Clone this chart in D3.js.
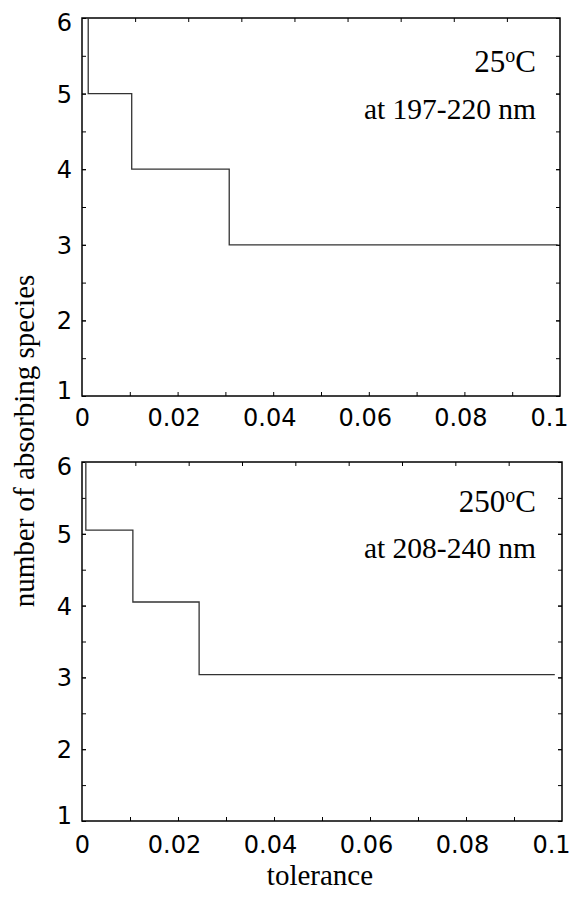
<!DOCTYPE html>
<html>
<head>
<meta charset="utf-8">
<script src="https://cdn.jsdelivr.net/npm/d3@7"></script>
<style>
  body { margin: 0; background: #fff; }
  svg { display: block; }
</style>
</head>
<body>
<div id="chart"></div>
<script>
// step curves
const tol25 = [0.0013, 0.0013, 0.0104, 0.0308, 0.0995];
const species25 = [6, 5, 4, 3, 3];
const tol250 = [0.0008, 0.0008, 0.0106, 0.0244, 0.0985];
const species250 = [6, 5.05, 4.05, 3.04, 3.04];

const xTickLabels = [0, 0.02, 0.04, 0.06, 0.08, 0.1];
const yTickLabels = [1, 2, 3, 4, 5, 6];
const xMinor = d3.range(1, 10).map(d => d / 100);
const yMinor = d3.range(1.5, 6, 0.5);

const tempLabels = ['25', '250'];
const rangeLabels = ['at 197-220 nm', 'at 208-240 nm'];

const width = 576, height = 898;
const svg = d3.select('#chart').append('svg')
    .attr('width', width)
    .attr('height', height);

const panels = [
    {left: 82, right: 560, top: 18, bottom: 396, tol: tol25, sp: species25, labelPad: 13, t1: 54, t2: 101},
    {left: 82, right: 562, top: 462, bottom: 821, tol: tol250, sp: species250, labelPad: 15, t1: 50, t2: 96}
];

panels.forEach((p, k) => {
    const x = d3.scaleLinear().domain([0, 0.1]).range([p.left, p.right]);
    const y = d3.scaleLinear().domain([1, 6]).range([p.bottom, p.top]);
    // top edge ticks don't line up with the bottom ones in the original
    const xTop = d3.scaleLinear().domain([0, 9]).range([p.left, p.right]);

    const g = svg.append('g');

    // minor ticks, pointing inward
    g.append('g').attr('transform', `translate(0,${p.bottom})`)
        .call(d3.axisBottom(x).tickValues(xMinor).tickSize(-4).tickFormat(''));
    g.append('g').attr('transform', `translate(0,${p.top})`)
        .call(d3.axisTop(xTop).tickValues(d3.range(1, 9)).tickSize(-4).tickFormat(''));
    g.append('g').attr('transform', `translate(${p.left},0)`)
        .call(d3.axisLeft(y).tickValues(yMinor.concat(yTickLabels)).tickSize(-4).tickFormat(''));
    g.append('g').attr('transform', `translate(${p.right},0)`)
        .call(d3.axisRight(y).tickValues(yMinor.concat(yTickLabels)).tickSize(-4).tickFormat(''));
    g.selectAll('.domain').remove();
    g.selectAll('.tick line').attr('stroke', '#000').attr('stroke-width', 1);

    // tick labels
    const xl = g.append('g').attr('transform', `translate(0,${p.bottom})`)
        .call(d3.axisBottom(x).tickValues(xTickLabels).tickSize(0).tickPadding(p.labelPad)
            .tickFormat(d => String(+d.toFixed(2))));
    xl.selectAll('text').attr('dx', d => d === 0.1 ? -11 : d === 0 ? 0 : -4);
    const yl = g.append('g').attr('transform', `translate(${p.left},0)`)
        .call(d3.axisLeft(y).tickValues(yTickLabels).tickSize(0).tickPadding(10).tickFormat(d3.format('d')));
    yl.selectAll('text').attr('dy', d => d === 6 ? '0.5em' : d === 1 ? '0.1em' : '0.35em');
    g.selectAll('.domain').remove();
    g.selectAll('text')
        .style('font-family', '"DejaVu Sans", sans-serif')
        .style('font-size', '24px')
        .attr('fill', '#000');

    // frame
    g.append('rect')
        .attr('x', p.left).attr('y', p.top)
        .attr('width', p.right - p.left).attr('height', p.bottom - p.top)
        .attr('fill', 'none').attr('stroke', '#000').attr('stroke-width', 1.5);

    // data
    const pts = p.tol.map((t, i) => [t, p.sp[i]]);
    g.append('path')
        .datum(pts)
        .attr('fill', 'none')
        .attr('stroke', '#333')
        .attr('stroke-width', 1.3)
        .attr('d', d3.line().x(d => x(d[0])).y(d => y(d[1])).curve(d3.curveStepAfter));

    // annotations
    const temp = g.append('text')
        .attr('x', 536).attr('y', p.top + p.t1)
        .attr('text-anchor', 'end')
        .style('font-family', '"Liberation Serif", "Times New Roman", serif')
        .style('font-size', '31px');
    temp.append('tspan').text(tempLabels[k]);
    temp.append('tspan').attr('dy', '-0.5em').style('font-size', '20px').text('o');
    temp.append('tspan').attr('dy', '0.32em').text('C');

    g.append('text')
        .attr('x', 536).attr('y', p.top + p.t2)
        .attr('text-anchor', 'end')
        .style('font-family', '"Liberation Serif", "Times New Roman", serif')
        .style('font-size', '29.5px')
        .text(rangeLabels[k]);
});

// axis titles
svg.append('text')
    .attr('transform', 'translate(34,441) rotate(-90)')
    .attr('text-anchor', 'middle')
    .style('font-family', '"Liberation Serif", "Times New Roman", serif')
    .style('font-size', '29px')
    .text('number of absorbing species');

svg.append('text')
    .attr('x', 320).attr('y', 885)
    .attr('text-anchor', 'middle')
    .style('font-family', '"Liberation Serif", "Times New Roman", serif')
    .style('font-size', '29px')
    .text('tolerance');
</script>
</body>
</html>
